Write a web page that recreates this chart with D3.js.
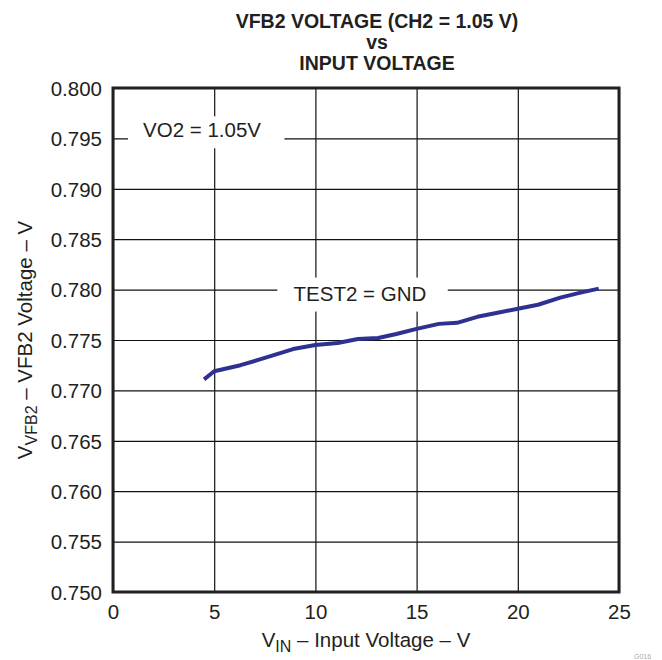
<!DOCTYPE html>
<html>
<head>
<meta charset="utf-8">
<script src="https://cdn.jsdelivr.net/npm/d3@7"></script>
<style>
  body { margin: 0; background: #fff; }
  text { font-family: "Liberation Sans", Arial, Helvetica, sans-serif; fill: #231f20; }
</style>
</head>
<body>
<script>

// data
var vin = [4.5, 5, 6.3, 7.3, 8.9, 10, 11.1, 12.1, 13.1, 14, 15, 16.1, 17, 18, 19, 20, 21, 22.1, 23.1, 24];
var vfb = [0.7711, 0.7719, 0.7725, 0.7731, 0.7741, 0.7745, 0.7747, 0.7751, 0.7752, 0.7756,
           0.7761, 0.7766, 0.7767, 0.7773, 0.7777, 0.7781, 0.7785, 0.7792, 0.7797, 0.7801];

var xTicks = [0, 5, 10, 15, 20, 25];
var yTicks = [0.750, 0.755, 0.760, 0.765, 0.770, 0.775, 0.780, 0.785, 0.790, 0.795, 0.800];

var titleLines = ["VFB2 VOLTAGE (CH2 = 1.05 V)", "vs", "INPUT VOLTAGE"];

var W = 662, H = 660;
var margin = {top: 88, right: 43, bottom: 68, left: 113};
var width = W - margin.left - margin.right,
    height = H - margin.top - margin.bottom;

var svg = d3.select("body").append("svg")
    .attr("width", W)
    .attr("height", H);

var x = d3.scaleLinear().domain([0, 25]).range([0, width]);
var y = d3.scaleLinear().domain([0.750, 0.800]).range([height, 0]);

var g = svg.append("g")
    .attr("transform", "translate(" + margin.left + "," + margin.top + ")");

// grid
var xAxis = g.append("g")
    .attr("transform", "translate(0," + height + ")")
    .call(d3.axisBottom(x).tickValues(xTicks).tickSize(-height).tickFormat(d3.format("d")).tickPadding(12));
var yAxis = g.append("g")
    .call(d3.axisLeft(y).tickValues(yTicks).tickSize(-width).tickFormat(d3.format(".3f")).tickPadding(11));

[xAxis, yAxis].forEach(function(a) {
  a.select(".domain").remove();
  a.selectAll("line").attr("stroke", "#111").attr("stroke-width", 1.2);
  a.selectAll("text")
    .style("font-family", '"Liberation Sans", Arial, sans-serif')
    .style("font-size", "20.5px")
    .attr("fill", "#231f20");
});
yAxis.selectAll("text").attr("dy", "0.36em");

// label boxes (white, cover the grid)
var labels = [
  {text: "VO2 = 1.05V", cx: 4.4, cy: 0.79583, x0: 0.74, x1: 8.47, y0: 0.79719, y1: 0.79402},
  {text: "TEST2 = GND", cx: 12.2, cy: 0.77961, x0: 8.12, x1: 16.54, y0: 0.78119, y1: 0.77782}
];
labels.forEach(function(l) {
  g.append("rect")
    .attr("x", x(l.x0)).attr("y", y(l.y0))
    .attr("width", x(l.x1) - x(l.x0)).attr("height", y(l.y1) - y(l.y0))
    .attr("fill", "#fff");
});

// curve
var line = d3.line()
    .x(function(d, i) { return x(vin[i]); })
    .y(function(d, i) { return y(vfb[i]); });

g.append("path")
    .datum(vin)
    .attr("d", line)
    .attr("fill", "none")
    .attr("stroke", "#2e3192")
    .attr("stroke-width", 4)
    .attr("stroke-linejoin", "round");

labels.forEach(function(l) {
  g.append("text")
    .attr("x", x(l.cx)).attr("y", y(l.cy))
    .attr("text-anchor", "middle")
    .attr("dy", "0.36em")
    .style("font-size", "20.5px")
    .text(l.text);
});

// frame
g.append("rect")
    .attr("x", 0).attr("y", 0)
    .attr("width", width).attr("height", height)
    .attr("fill", "none")
    .attr("stroke", "#231f20")
    .attr("stroke-width", 3);

// title
var tcx = margin.left + width / 2 + 11;
svg.append("g").selectAll("text")
  .data(titleLines)
  .enter().append("text")
    .attr("x", tcx)
    .attr("y", function(d, i) { return 28 + i * 21; })
    .attr("text-anchor", "middle")
    .style("font-size", "19.5px")
    .style("font-weight", "bold")
    .text(function(d) { return d; });

// x axis label
var xl = svg.append("text")
    .attr("x", margin.left + width / 2)
    .attr("y", 647)
    .attr("text-anchor", "middle")
    .style("font-size", "20.5px");
xl.append("tspan").text("V");
xl.append("tspan").attr("dy", 5).style("font-size", "16px").text("IN");
xl.append("tspan").attr("dy", -5).text(" \u2013 Input Voltage \u2013 V");

// y axis label
var yl = svg.append("text")
    .attr("transform", "translate(32," + (margin.top + height / 2) + ") rotate(-90)")
    .attr("text-anchor", "middle")
    .style("font-size", "20.5px");
yl.append("tspan").text("V");
yl.append("tspan").attr("dy", 5).style("font-size", "16px").text("VFB2");
yl.append("tspan").attr("dy", -5).text(" \u2013 VFB2 Voltage \u2013 V");

// figure code in the corner
svg.append("text")
    .attr("x", 634).attr("y", 659)
    .style("font-size", "7px")
    .style("fill", "#aaa")
    .text("G016");

</script>
</body>
</html>
